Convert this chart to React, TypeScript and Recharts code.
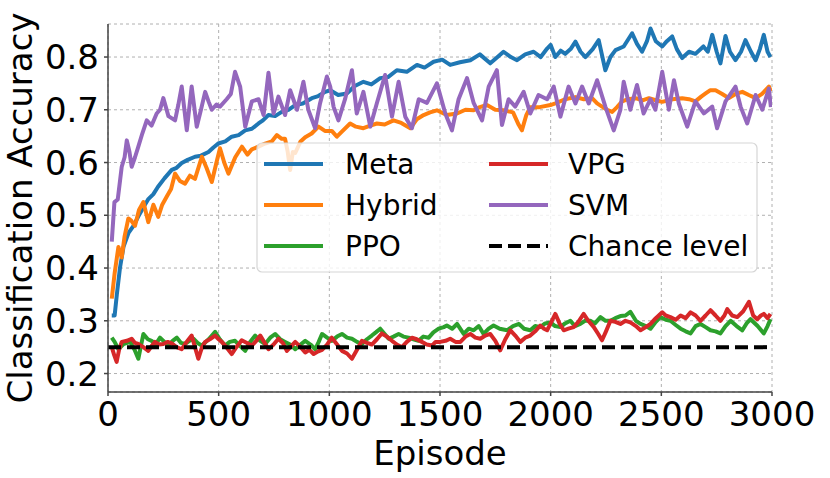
import { LineChart, Line, XAxis, YAxis, CartesianGrid, Legend } from 'recharts';

// episode / accuracy pairs
const META_EPISODES = [17, 30, 40, 54, 70, 92, 115, 136, 160, 181, 205, 226, 255, 288, 310, 333, 360, 393, 420, 454, 475, 498, 530, 559, 590, 620, 650, 680, 700, 725, 755, 785, 815, 846, 880, 921, 950, 981, 1004, 1040, 1079, 1115, 1154, 1190, 1230, 1265, 1305, 1350, 1396, 1430, 1471, 1510, 1546, 1590, 1637, 1680, 1727, 1760, 1787, 1820, 1848, 1885, 1923, 1955, 1984, 2000, 2021, 2045, 2066, 2090, 2112, 2135, 2157, 2190, 2217, 2247, 2270, 2293, 2330, 2368, 2390, 2413, 2435, 2451, 2475, 2504, 2525, 2549, 2570, 2594, 2625, 2654, 2690, 2710, 2730, 2750, 2767, 2790, 2810, 2835, 2860, 2880, 2905, 2926, 2945, 2963, 2980, 2993];
const META_ACC = [0.31, 0.31, 0.35, 0.4, 0.44, 0.466, 0.48, 0.497, 0.515, 0.53, 0.54, 0.554, 0.57, 0.586, 0.59, 0.599, 0.605, 0.611, 0.613, 0.62, 0.628, 0.636, 0.64, 0.649, 0.652, 0.661, 0.664, 0.674, 0.68, 0.69, 0.688, 0.696, 0.7, 0.709, 0.712, 0.722, 0.726, 0.734, 0.737, 0.728, 0.731, 0.745, 0.753, 0.748, 0.76, 0.762, 0.775, 0.772, 0.785, 0.78, 0.791, 0.795, 0.785, 0.79, 0.794, 0.805, 0.788, 0.8, 0.81, 0.8, 0.794, 0.805, 0.81, 0.8, 0.816, 0.823, 0.8, 0.812, 0.806, 0.815, 0.829, 0.81, 0.8, 0.815, 0.832, 0.775, 0.8, 0.813, 0.82, 0.845, 0.825, 0.81, 0.83, 0.854, 0.83, 0.82, 0.83, 0.839, 0.815, 0.798, 0.81, 0.806, 0.82, 0.81, 0.842, 0.81, 0.788, 0.84, 0.81, 0.794, 0.81, 0.832, 0.81, 0.794, 0.815, 0.842, 0.81, 0.8];

const HYBRID_EPISODES = [17, 30, 47, 62, 75, 92, 105, 122, 140, 160, 182, 205, 227, 245, 265, 285, 303, 325, 348, 370, 393, 424, 445, 469, 490, 506, 525, 544, 575, 605, 630, 650, 680, 710, 740, 763, 785, 800, 812, 823, 835, 846, 870, 891, 920, 951, 980, 1011, 1034, 1060, 1094, 1120, 1154, 1185, 1215, 1250, 1290, 1325, 1366, 1395, 1426, 1455, 1486, 1530, 1577, 1615, 1652, 1680, 1712, 1750, 1787, 1830, 1855, 1870, 1890, 1908, 1950, 1999, 2021, 2065, 2112, 2150, 2187, 2210, 2232, 2255, 2278, 2300, 2323, 2350, 2383, 2415, 2444, 2475, 2504, 2550, 2594, 2625, 2654, 2680, 2700, 2720, 2745, 2775, 2805, 2835, 2866, 2895, 2926, 2955, 2986, 2995];
const HYBRID_ACC = [0.342, 0.39, 0.44, 0.42, 0.46, 0.494, 0.49, 0.48, 0.51, 0.525, 0.487, 0.52, 0.497, 0.52, 0.535, 0.55, 0.579, 0.565, 0.56, 0.575, 0.569, 0.611, 0.59, 0.563, 0.6, 0.627, 0.6, 0.579, 0.61, 0.63, 0.615, 0.625, 0.63, 0.636, 0.64, 0.652, 0.645, 0.645, 0.62, 0.586, 0.62, 0.618, 0.64, 0.648, 0.655, 0.668, 0.66, 0.66, 0.649, 0.66, 0.674, 0.668, 0.665, 0.67, 0.674, 0.672, 0.68, 0.675, 0.665, 0.682, 0.69, 0.695, 0.699, 0.69, 0.693, 0.7, 0.699, 0.705, 0.709, 0.7, 0.699, 0.695, 0.672, 0.661, 0.69, 0.705, 0.705, 0.709, 0.712, 0.72, 0.724, 0.72, 0.722, 0.712, 0.706, 0.7, 0.696, 0.705, 0.716, 0.72, 0.722, 0.718, 0.722, 0.718, 0.715, 0.72, 0.722, 0.72, 0.716, 0.725, 0.731, 0.737, 0.737, 0.73, 0.722, 0.73, 0.734, 0.728, 0.722, 0.73, 0.744, 0.735];

const PPO_EPISODES = [17, 30, 47, 70, 100, 120, 137, 160, 180, 197, 215, 235, 255, 273, 292, 311, 330, 348, 368, 386, 405, 424, 455, 484, 505, 529, 550, 574, 597, 620, 642, 665, 688, 710, 733, 755, 778, 800, 823, 846, 870, 891, 915, 936, 952, 967, 990, 1011, 1035, 1057, 1080, 1102, 1125, 1147, 1170, 1192, 1210, 1230, 1250, 1268, 1290, 1313, 1335, 1358, 1380, 1403, 1425, 1449, 1470, 1494, 1517, 1531, 1555, 1577, 1607, 1630, 1652, 1675, 1697, 1720, 1742, 1770, 1803, 1830, 1857, 1880, 1908, 1930, 1953, 1975, 1999, 2020, 2044, 2065, 2089, 2110, 2134, 2155, 2179, 2200, 2225, 2248, 2270, 2292, 2315, 2338, 2360, 2385, 2406, 2430, 2451, 2475, 2496, 2520, 2541, 2565, 2587, 2610, 2632, 2655, 2677, 2700, 2722, 2745, 2767, 2790, 2813, 2840, 2866, 2885, 2903, 2935, 2963, 2980, 2993];
const PPO_ACC = [0.268, 0.26, 0.246, 0.256, 0.26, 0.245, 0.228, 0.275, 0.265, 0.262, 0.255, 0.268, 0.26, 0.253, 0.262, 0.268, 0.258, 0.256, 0.262, 0.266, 0.258, 0.253, 0.265, 0.279, 0.265, 0.253, 0.26, 0.262, 0.252, 0.243, 0.26, 0.272, 0.262, 0.256, 0.268, 0.275, 0.265, 0.26, 0.255, 0.246, 0.255, 0.262, 0.255, 0.246, 0.26, 0.275, 0.268, 0.262, 0.27, 0.275, 0.268, 0.266, 0.26, 0.256, 0.265, 0.272, 0.278, 0.285, 0.275, 0.266, 0.27, 0.275, 0.27, 0.268, 0.265, 0.262, 0.27, 0.268, 0.278, 0.285, 0.288, 0.291, 0.285, 0.294, 0.275, 0.285, 0.282, 0.29, 0.275, 0.285, 0.291, 0.285, 0.282, 0.29, 0.294, 0.285, 0.282, 0.29, 0.288, 0.295, 0.297, 0.29, 0.288, 0.295, 0.3, 0.29, 0.294, 0.3, 0.3, 0.295, 0.307, 0.3, 0.3, 0.305, 0.309, 0.31, 0.317, 0.3, 0.294, 0.29, 0.285, 0.298, 0.307, 0.302, 0.3, 0.292, 0.285, 0.28, 0.276, 0.29, 0.294, 0.288, 0.282, 0.28, 0.276, 0.29, 0.3, 0.29, 0.282, 0.295, 0.303, 0.29, 0.276, 0.29, 0.303];

const VPG_EPISODES = [17, 28, 39, 50, 62, 85, 107, 122, 137, 160, 182, 197, 212, 230, 250, 270, 288, 310, 333, 355, 378, 393, 408, 425, 439, 460, 484, 500, 514, 535, 559, 580, 604, 628, 650, 670, 688, 705, 725, 748, 770, 790, 808, 828, 846, 870, 891, 910, 929, 950, 967, 990, 1011, 1035, 1057, 1080, 1102, 1125, 1147, 1170, 1192, 1215, 1237, 1260, 1283, 1305, 1328, 1350, 1373, 1395, 1418, 1440, 1464, 1480, 1501, 1525, 1546, 1570, 1592, 1615, 1637, 1660, 1682, 1705, 1727, 1750, 1772, 1795, 1818, 1840, 1863, 1885, 1908, 1930, 1953, 1970, 1984, 2000, 2021, 2040, 2059, 2080, 2104, 2125, 2149, 2170, 2195, 2215, 2232, 2250, 2270, 2292, 2315, 2338, 2360, 2385, 2406, 2430, 2451, 2475, 2504, 2520, 2541, 2565, 2587, 2610, 2632, 2655, 2677, 2700, 2722, 2745, 2767, 2785, 2798, 2820, 2843, 2870, 2896, 2915, 2933, 2950, 2963, 2980, 2993];
const VPG_ACC = [0.25, 0.235, 0.222, 0.245, 0.26, 0.262, 0.266, 0.258, 0.256, 0.25, 0.243, 0.252, 0.26, 0.255, 0.256, 0.26, 0.257, 0.25, 0.246, 0.26, 0.272, 0.25, 0.228, 0.25, 0.26, 0.265, 0.272, 0.265, 0.26, 0.25, 0.237, 0.25, 0.263, 0.258, 0.253, 0.262, 0.272, 0.26, 0.246, 0.255, 0.266, 0.258, 0.243, 0.252, 0.26, 0.25, 0.24, 0.245, 0.237, 0.242, 0.245, 0.255, 0.268, 0.255, 0.243, 0.238, 0.228, 0.245, 0.262, 0.258, 0.255, 0.265, 0.276, 0.27, 0.262, 0.255, 0.25, 0.26, 0.268, 0.265, 0.26, 0.255, 0.253, 0.26, 0.26, 0.262, 0.266, 0.26, 0.26, 0.27, 0.275, 0.268, 0.266, 0.272, 0.275, 0.262, 0.244, 0.265, 0.282, 0.272, 0.26, 0.268, 0.272, 0.28, 0.291, 0.285, 0.282, 0.295, 0.313, 0.295, 0.282, 0.285, 0.288, 0.298, 0.313, 0.3, 0.288, 0.275, 0.263, 0.28, 0.3, 0.298, 0.294, 0.3, 0.297, 0.29, 0.282, 0.288, 0.294, 0.305, 0.316, 0.31, 0.307, 0.302, 0.31, 0.305, 0.316, 0.31, 0.3, 0.31, 0.32, 0.31, 0.3, 0.31, 0.322, 0.31, 0.307, 0.318, 0.336, 0.31, 0.303, 0.31, 0.313, 0.305, 0.313];

const SVM_EPISODES = [17, 29, 44, 62, 75, 85, 97, 107, 122, 137, 155, 175, 197, 220, 235, 250, 273, 303, 318, 333, 356, 378, 401, 420, 439, 455, 469, 490, 506, 536, 555, 574, 597, 620, 650, 680, 703, 725, 748, 770, 800, 823, 854, 883, 905, 936, 958, 989, 1004, 1019, 1041, 1071, 1102, 1124, 1154, 1185, 1215, 1252, 1283, 1313, 1343, 1373, 1404, 1441, 1486, 1524, 1554, 1584, 1622, 1652, 1690, 1720, 1757, 1780, 1810, 1840, 1878, 1908, 1945, 1984, 2014, 2044, 2081, 2112, 2142, 2172, 2210, 2247, 2285, 2315, 2330, 2360, 2390, 2420, 2451, 2473, 2504, 2534, 2557, 2579, 2617, 2654, 2692, 2730, 2752, 2790, 2835, 2858, 2888, 2926, 2956, 2986, 2995];
const SVM_ACC = [0.45, 0.525, 0.53, 0.592, 0.61, 0.642, 0.62, 0.592, 0.61, 0.63, 0.655, 0.68, 0.67, 0.693, 0.7, 0.722, 0.688, 0.68, 0.71, 0.744, 0.661, 0.744, 0.668, 0.7, 0.734, 0.715, 0.7, 0.71, 0.706, 0.72, 0.73, 0.772, 0.744, 0.668, 0.716, 0.72, 0.69, 0.77, 0.693, 0.725, 0.69, 0.737, 0.7, 0.753, 0.7, 0.665, 0.712, 0.763, 0.744, 0.706, 0.68, 0.72, 0.775, 0.693, 0.734, 0.668, 0.713, 0.766, 0.687, 0.753, 0.687, 0.665, 0.72, 0.713, 0.75, 0.693, 0.661, 0.72, 0.76, 0.713, 0.68, 0.744, 0.775, 0.671, 0.72, 0.706, 0.734, 0.693, 0.728, 0.72, 0.744, 0.687, 0.744, 0.712, 0.744, 0.712, 0.756, 0.706, 0.661, 0.7, 0.753, 0.7, 0.747, 0.693, 0.72, 0.7, 0.772, 0.7, 0.756, 0.712, 0.668, 0.716, 0.693, 0.706, 0.665, 0.716, 0.744, 0.706, 0.674, 0.728, 0.7, 0.74, 0.705];

const CHANCE_EPISODES = [0, 3000];
const CHANCE_ACC = [0.25, 0.25];

const X_TICKS = [0, 500, 1000, 1500, 2000, 2500, 3000];
const Y_TICKS = [0.2, 0.3, 0.4, 0.5, 0.6, 0.7, 0.8];

const toPoints = (xs: number[], ys: number[]) => xs.map((x, i) => ({ episode: x, acc: ys[i] }));

// plot order = matplotlib order, legend is column-major with 2 columns
const SERIES = [
  { name: 'Meta', color: '#1f77b4', data: toPoints(META_EPISODES, META_ACC) },
  { name: 'Hybrid', color: '#ff7f0e', data: toPoints(HYBRID_EPISODES, HYBRID_ACC) },
  { name: 'PPO', color: '#2ca02c', data: toPoints(PPO_EPISODES, PPO_ACC) },
  { name: 'VPG', color: '#d62728', data: toPoints(VPG_EPISODES, VPG_ACC) },
  { name: 'SVM', color: '#9467bd', data: toPoints(SVM_EPISODES, SVM_ACC) },
  { name: 'Chance level', color: '#000000', data: toPoints(CHANCE_EPISODES, CHANCE_ACC), dashed: true },
];

const FONT = '"DejaVu Sans", sans-serif';

function LegendBox() {
  const rows = [21, 62, 103];
  const cols = [
    { line: 8, text: 89 },
    { line: 233, text: 312 },
  ];
  return (
    <svg width={503} height={132} style={{ display: 'block' }}>
      <rect x={1} y={1} width={500} height={129} rx={5} fill="#ffffff" fillOpacity={0.8} stroke="#d6d6d6" strokeWidth={1.2} />
      {SERIES.map((s, i) => {
        const col = cols[Math.floor(i / 3)];
        const y = rows[i % 3] + 1;
        return (
          <g key={s.name}>
            <line
              x1={col.line}
              x2={col.line + 59}
              y1={y}
              y2={y}
              stroke={s.color}
              strokeWidth={4}
              strokeDasharray={s.dashed ? '13 6' : undefined}
            />
            <text x={col.text} y={y} dy="0.36em" fontSize={28} fontFamily={FONT} fill="#000">
              {s.name}
            </text>
          </g>
        );
      })}
    </svg>
  );
}

export default function App() {
  return (
    <div style={{ position: 'fixed', left: 0, top: 0, width: 830, height: 478, background: '#fff' }}>
      <LineChart width={830} height={478} margin={{ top: 24, right: 58, left: 0, bottom: 0 }} style={{ fontFamily: FONT }}>
        <CartesianGrid stroke="#b0b0b0" strokeDasharray="3 3" strokeWidth={1} />
        <XAxis
          dataKey="episode"
          type="number"
          domain={[0, 3000]}
          ticks={X_TICKS}
          allowDataOverflow
          height={86}
          stroke="#444"
          strokeWidth={1.5}
          tickSize={4}
          tickMargin={6}
          tick={{ fontSize: 34, fill: '#000' }}
          label={{
            content: ({ viewBox }: any) => (
              <text x={viewBox.x + viewBox.width / 2} y={viewBox.y + 73} textAnchor="middle" fontSize={34} fill="#000">
                Episode
              </text>
            ),
          }}
        />
        <YAxis
          type="number"
          domain={[0.165, 0.8626]}
          ticks={Y_TICKS}
          allowDataOverflow
          width={108}
          stroke="#444"
          strokeWidth={1.5}
          tickSize={4}
          tickMargin={5}
          tickFormatter={(v: number) => v.toFixed(1)}
          tick={{ fontSize: 34, fill: '#000' }}
          label={{
            content: ({ viewBox }: any) => {
              const cy = viewBox.y + viewBox.height / 2;
              return (
                <text x={32} y={cy} transform={`rotate(-90, 32, ${cy})`} textAnchor="middle" fontSize={34} fill="#000">
                  Classification Accuracy
                </text>
              );
            },
          }}
        />
        {SERIES.map((s) => (
          <Line
            key={s.name}
            data={s.data}
            dataKey="acc"
            name={s.name}
            type="linear"
            stroke={s.color}
            strokeWidth={4}
            strokeDasharray={s.dashed ? '13 6' : undefined}
            strokeLinejoin="round"
            dot={false}
            activeDot={false}
            isAnimationActive={false}
          />
        ))}
        <Legend
          layout="vertical"
          align="center"
          verticalAlign="middle"
          content={() => <LegendBox />}
          wrapperStyle={{ left: 256, top: 142, width: 503, height: 132 }}
        />
      </LineChart>
    </div>
  );
}
